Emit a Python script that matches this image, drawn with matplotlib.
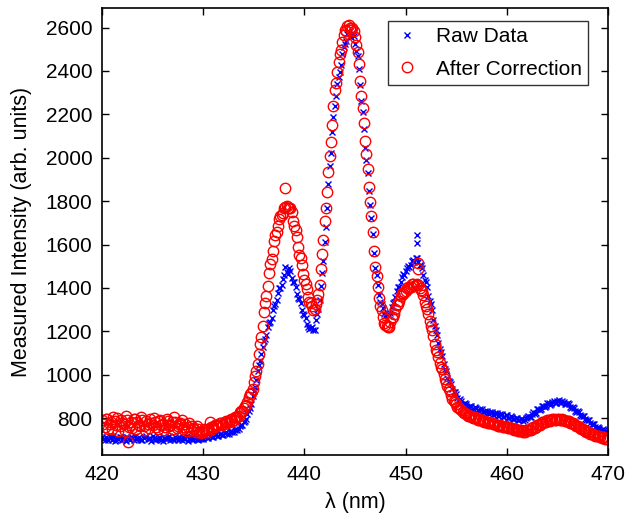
import numpy as np
import matplotlib
matplotlib.use("Agg")
import matplotlib.pyplot as plt

plt.rcParams['font.family'] = ['Liberation Sans', 'DejaVu Sans']

# wavelength grids (nm): main grid 420..470 step 0.25, interleaved grid offset by 0.125
lam_start, lam_stop, lam_step = 420.0, 470.0, 0.25
lam_offset = 0.125

raw_data = [
    712, 698, 706, 719, 701, 694, 708, 715, 700, 703,
    711, 697, 709, 716, 702, 706, 699, 713, 704, 707,
    718, 700, 705, 710, 696, 709, 714, 701, 703, 712,
    698, 706, 711, 702, 695, 708, 704, 713, 700, 706,
    704, 716, 708, 719, 713, 725, 716, 729, 722, 734, 727, 740, 738, 748, 752, 768,
    783, 796, 834, 866, 925, 975, 1046, 1094, 1156, 1185, 1238, 1262, 1318, 1344, 1398, 1414,
    1458, 1472, 1490, 1445, 1428, 1372, 1348, 1298, 1276, 1235, 1210, 1222, 1208, 1280, 1345, 1468,
    1612, 1770, 1962, 2118, 2240, 2338, 2395, 2480, 2525, 2568, 2562, 2575, 2522, 2468, 2335, 2210,
    2045, 1928, 1782, 1650, 1492, 1415, 1335, 1306, 1270, 1278, 1285, 1330, 1356, 1402, 1425, 1462,
    1476, 1502, 1505, 1528, 1536, 1520, 1506, 1460, 1426, 1364, 1326, 1254, 1206, 1144, 1106, 1050,
    1016, 970, 956, 921, 910, 884, 880, 862, 866, 851, 856, 843, 847, 834, 840, 827,
    833, 821, 827, 815, 823, 811, 818, 806, 813, 801, 805, 794, 799, 789, 797, 791,
    804, 803, 820, 821, 840, 839, 856, 852, 868, 861, 876, 869, 881, 872, 878, 866,
    869, 853, 852, 834, 832, 814, 811, 795, 793, 776, 773, 758, 758, 747, 748, 738,
    736,
]

raw_data_b = [
    703, 714, 699, 707, 717, 697, 704, 711, 706, 693,
    709, 715, 701, 705, 712, 698, 707, 717, 702, 696,
    710, 704, 713, 699, 708, 702, 716, 706, 697, 709,
    713, 700, 705, 717, 703, 698, 710, 706, 702, 709,
    715, 709, 718, 714, 723, 719, 727, 724, 733, 729, 738, 736, 747, 745, 764, 768,
    788, 820, 846, 902, 944, 1016, 1064, 1130, 1165, 1218, 1244, 1296, 1325, 1378, 1399, 1442,
    1496, 1462, 1478, 1428, 1406, 1354, 1330, 1282, 1262, 1218, 1214, 1204, 1252, 1302, 1408, 1522,
    1682, 1878, 2022, 2188, 2284, 2372, 2428, 2508, 2540, 2574, 2556, 2560, 2494, 2408, 2262, 2132,
    1990, 1848, 1722, 1562, 1460, 1368, 1326, 1280, 1278, 1272, 1314, 1336, 1385, 1406, 1450, 1460,
    1494, 1496, 1522, 1518, 1540, 1506, 1490, 1436, 1402, 1338, 1296, 1224, 1182, 1118, 1085, 1026,
    986, 968, 932, 920, 891, 886, 865, 869, 852, 858, 843, 850, 836, 841, 829, 835,
    822, 829, 816, 825, 812, 820, 806, 815, 802, 808, 794, 802, 790, 798, 788, 802,
    808, 806, 826, 825, 844, 842, 858, 855, 870, 864, 877, 870, 882, 869, 876, 863,
    866, 848, 848, 829, 828, 808, 808, 790, 790, 771, 771, 754, 756, 744, 746, 735,
]

corrected = [
    790, 760, 795, 772, 748, 785, 800, 765, 778, 740,
    792, 770, 755, 798, 780, 762, 790, 745, 775, 795,
    768, 783, 752, 790, 775, 760, 788, 770, 750, 782,
    765, 778, 748, 772, 760, 745, 755, 738, 748, 730,
    738, 745, 752, 760, 758, 770, 768, 777, 773, 785, 782, 795, 792, 806, 812, 832,
    848, 862, 895, 918, 966, 1015, 1096, 1175, 1288, 1365, 1468, 1535, 1618, 1660, 1718, 1736,
    1768, 1778, 1770, 1748, 1684, 1636, 1552, 1506, 1435, 1394, 1335, 1316, 1305, 1346, 1415, 1558,
    1710, 1842, 2008, 2152, 2310, 2395, 2478, 2535, 2588, 2605, 2596, 2598, 2555, 2488, 2352, 2228,
    2075, 1948, 1795, 1658, 1495, 1405, 1315, 1265, 1228, 1218, 1244, 1266, 1304, 1326, 1364, 1374,
    1386, 1404, 1406, 1418, 1412, 1414, 1390, 1368, 1316, 1279, 1226, 1178, 1116, 1083, 1036, 1004,
    968, 932, 907, 880, 864, 846, 837, 824, 820, 810, 808, 800, 800, 792, 791, 784,
    784, 777, 778, 771, 770, 764, 765, 758, 760, 753, 754, 746, 747, 740, 742, 738,
    744, 744, 754, 756, 767, 770, 780, 781, 789, 788, 794, 792, 797, 793, 795, 788,
    788, 779, 777, 766, 764, 753, 750, 739, 737, 728, 727, 718, 718, 711, 712, 706,
    706,
]

corrected_b = [
    775, 798, 752, 783, 805, 768, 742, 790, 772, 808,
    758, 781, 796, 748, 770, 803, 762, 785, 753, 776,
    800, 757, 786, 768, 744, 795, 763, 780, 805, 754,
    772, 790, 760, 742, 778, 765, 750, 762, 735, 742,
    748, 738, 782, 752, 768, 762, 776, 770, 782, 779, 792, 786, 803, 804, 826, 833,
    858, 874, 910, 936, 996, 1050, 1140, 1224, 1332, 1410, 1508, 1570, 1646, 1684, 1730, 1746,
    1772, 1768, 1766, 1710, 1668, 1590, 1536, 1464, 1420, 1360, 1330, 1300, 1326, 1370, 1486, 1622,
    1768, 1932, 2074, 2238, 2344, 2442, 2498, 2566, 2586, 2610, 2590, 2584, 2520, 2432, 2284, 2158,
    2016, 1864, 1732, 1568, 1456, 1354, 1296, 1238, 1226, 1222, 1260, 1280, 1320, 1340, 1376, 1380,
    1400, 1398, 1418, 1410, 1420, 1398, 1386, 1336, 1304, 1246, 1208, 1142, 1106, 1054, 1026, 978,
    946, 924, 890, 876, 852, 844, 828, 825, 812, 812, 802, 803, 793, 795, 786, 787,
    778, 780, 771, 774, 765, 767, 759, 762, 754, 756, 748, 749, 741, 744, 738, 743,
    746, 747, 757, 760, 770, 773, 782, 783, 790, 789, 795, 793, 797, 792, 793, 786,
    785, 776, 773, 763, 760, 749, 746, 736, 734, 725, 724, 716, 716, 709, 711, 705,
]

# isolated outlying samples
raw_extra_lam = [451.1, 451.15]
raw_extra_val = [1645, 1608]
corr_extra_lam = [438.1, 422.6, 451.2, 451.25]
corr_extra_val = [1860, 688, 1515, 1485]

x_ticks = [420, 430, 440, 450, 460, 470]
y_ticks = [800, 1000, 1200, 1400, 1600, 1800, 2000, 2200, 2400, 2600]

lam_a = np.arange(lam_start, lam_stop + lam_step / 2, lam_step)
lam_b = np.arange(lam_start + lam_offset, lam_stop, lam_step)
lam_raw = np.concatenate([lam_a, lam_b, raw_extra_lam])
val_raw = np.concatenate([raw_data, raw_data_b, raw_extra_val])
lam_cor = np.concatenate([lam_a, lam_b, corr_extra_lam])
val_cor = np.concatenate([corrected, corrected_b, corr_extra_val])

fig = plt.figure(figsize=(6.27, 5.19), dpi=100)
ax = fig.add_axes([102 / 627, 1 - 455 / 519, (608 - 102) / 627, (455 - 8) / 519])

ax.plot(lam_raw, val_raw, linestyle='none', marker='x', color='#0000ff',
        markersize=5, markeredgewidth=1.0, label='Raw Data')
ax.plot(lam_cor, val_cor, linestyle='none', marker='o', markerfacecolor='none',
        markeredgecolor='#ff0000', markersize=7.5, markeredgewidth=1.0,
        label='After Correction')

ax.set_xlim(420, 470)
ax.set_ylim(630, 2690)
ax.set_xticks(x_ticks)
ax.set_yticks(y_ticks)
ax.tick_params(direction='in', top=True, right=True, length=5, width=1,
               labelsize=15, pad=7)
for s in ax.spines.values():
    s.set_linewidth(1.2)

ax.set_xlabel('λ (nm)', fontsize=15.5, labelpad=6)
ax.set_ylabel('Measured Intensity (arb. units)', fontsize=15.5, labelpad=10)

leg = ax.legend(loc='upper right', bbox_to_anchor=(588 / 627, 1 - 21 / 519),
                bbox_transform=fig.transFigure, fontsize=15, frameon=True,
                fancybox=False, edgecolor='black', handlelength=1.2,
                handletextpad=0.8, borderpad=0.3, labelspacing=0.65,
                borderaxespad=0)
leg.get_frame().set_linewidth(1.0)

fig.savefig('out.png', dpi=100)
